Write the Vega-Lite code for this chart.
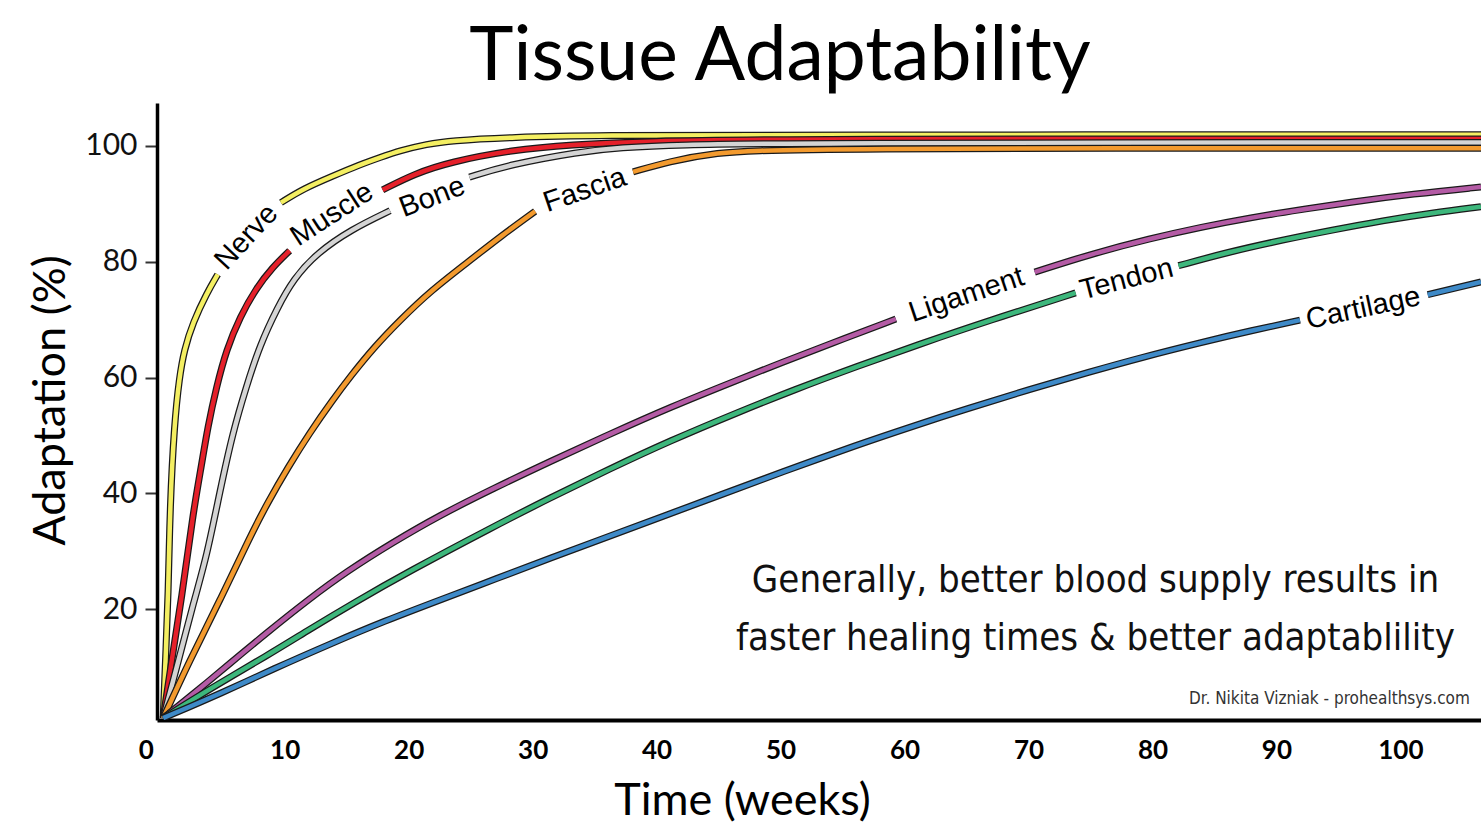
{
  "$schema": "https://vega.github.io/schema/vega-lite/v6.json",
  "autosize": {"type": "none"},
  "padding": {"left": 157, "top": 103, "right": 0, "bottom": 120},
  "width": 1324,
  "height": 617,
  "background": "white",
  "config": {"view": {"stroke": null}},
  "title": {"text": "Tissue Adaptability", "font": "Lato", "fontSize": 75, "fontWeight": "normal", "color": "black", "anchor": "middle", "dx": -39, "dy": 78, "baseline": "alphabetic", "offset": 26},
  "datasets": {
    "curves": [
      {"s": "Nerve", "g": "Nerve-a", "x": 0.2, "y": 1.2},
      {"s": "Nerve", "g": "Nerve-a", "x": 0.4, "y": 12},
      {"s": "Nerve", "g": "Nerve-a", "x": 0.6, "y": 22},
      {"s": "Nerve", "g": "Nerve-a", "x": 0.75, "y": 38},
      {"s": "Nerve", "g": "Nerve-a", "x": 1.1, "y": 52},
      {"s": "Nerve", "g": "Nerve-a", "x": 1.5, "y": 60},
      {"s": "Nerve", "g": "Nerve-a", "x": 1.9, "y": 64.8},
      {"s": "Nerve", "g": "Nerve-a", "x": 2.6, "y": 69.5},
      {"s": "Nerve", "g": "Nerve-a", "x": 3.7, "y": 74.5},
      {"s": "Nerve", "g": "Nerve-a", "x": 4.6, "y": 77.8},
      {"s": "Nerve", "g": "Nerve-b", "x": 9.7, "y": 90.2},
      {"s": "Nerve", "g": "Nerve-b", "x": 11.5, "y": 92.6},
      {"s": "Nerve", "g": "Nerve-b", "x": 13.9, "y": 94.8},
      {"s": "Nerve", "g": "Nerve-b", "x": 16, "y": 96.7},
      {"s": "Nerve", "g": "Nerve-b", "x": 17.7, "y": 98.0},
      {"s": "Nerve", "g": "Nerve-b", "x": 19.3, "y": 99.2},
      {"s": "Nerve", "g": "Nerve-b", "x": 21.5, "y": 100.3},
      {"s": "Nerve", "g": "Nerve-b", "x": 23.3, "y": 100.9},
      {"s": "Nerve", "g": "Nerve-b", "x": 28.4, "y": 101.5},
      {"s": "Nerve", "g": "Nerve-b", "x": 35, "y": 101.8},
      {"s": "Nerve", "g": "Nerve-b", "x": 50, "y": 101.9},
      {"s": "Nerve", "g": "Nerve-b", "x": 106.5, "y": 101.9},
      {"s": "Muscle", "g": "Muscle-a", "x": 0.2, "y": 1.2},
      {"s": "Muscle", "g": "Muscle-a", "x": 0.8, "y": 10},
      {"s": "Muscle", "g": "Muscle-a", "x": 1.7, "y": 22},
      {"s": "Muscle", "g": "Muscle-a", "x": 2.6, "y": 36.5},
      {"s": "Muscle", "g": "Muscle-a", "x": 3.3, "y": 45},
      {"s": "Muscle", "g": "Muscle-a", "x": 3.8, "y": 51.5},
      {"s": "Muscle", "g": "Muscle-a", "x": 4.5, "y": 58.4},
      {"s": "Muscle", "g": "Muscle-a", "x": 5.3, "y": 64.8},
      {"s": "Muscle", "g": "Muscle-a", "x": 6.4, "y": 70.5},
      {"s": "Muscle", "g": "Muscle-a", "x": 7.7, "y": 75.4},
      {"s": "Muscle", "g": "Muscle-a", "x": 9.0, "y": 79.0},
      {"s": "Muscle", "g": "Muscle-a", "x": 10.4, "y": 81.9},
      {"s": "Muscle", "g": "Muscle-b", "x": 17.9, "y": 92.4},
      {"s": "Muscle", "g": "Muscle-b", "x": 20.5, "y": 95.2},
      {"s": "Muscle", "g": "Muscle-b", "x": 23.3, "y": 97.2},
      {"s": "Muscle", "g": "Muscle-b", "x": 28.4, "y": 99.3},
      {"s": "Muscle", "g": "Muscle-b", "x": 33, "y": 100.2},
      {"s": "Muscle", "g": "Muscle-b", "x": 39.2, "y": 100.8},
      {"s": "Muscle", "g": "Muscle-b", "x": 50, "y": 101.2},
      {"s": "Muscle", "g": "Muscle-b", "x": 106.5, "y": 101.2},
      {"s": "Bone", "g": "Bone-a", "x": 0.2, "y": 1.2},
      {"s": "Bone", "g": "Bone-a", "x": 1.3, "y": 10},
      {"s": "Bone", "g": "Bone-a", "x": 2.7, "y": 21.6},
      {"s": "Bone", "g": "Bone-a", "x": 3.7, "y": 29},
      {"s": "Bone", "g": "Bone-a", "x": 4.8, "y": 40.6},
      {"s": "Bone", "g": "Bone-a", "x": 5.8, "y": 50.4},
      {"s": "Bone", "g": "Bone-a", "x": 6.9, "y": 58.4},
      {"s": "Bone", "g": "Bone-a", "x": 8.0, "y": 65.6},
      {"s": "Bone", "g": "Bone-a", "x": 9.4, "y": 72.0},
      {"s": "Bone", "g": "Bone-a", "x": 10.7, "y": 77.0},
      {"s": "Bone", "g": "Bone-a", "x": 12.6, "y": 81.5},
      {"s": "Bone", "g": "Bone-a", "x": 15.4, "y": 85.6},
      {"s": "Bone", "g": "Bone-a", "x": 18.5, "y": 88.8},
      {"s": "Bone", "g": "Bone-b", "x": 24.9, "y": 94.6},
      {"s": "Bone", "g": "Bone-b", "x": 28, "y": 96.7},
      {"s": "Bone", "g": "Bone-b", "x": 33.8, "y": 99.0},
      {"s": "Bone", "g": "Bone-b", "x": 37, "y": 99.7},
      {"s": "Bone", "g": "Bone-b", "x": 41.9, "y": 100.2},
      {"s": "Bone", "g": "Bone-b", "x": 50, "y": 100.5},
      {"s": "Bone", "g": "Bone-b", "x": 106.5, "y": 100.6},
      {"s": "Fascia", "g": "Fascia-a", "x": 0.2, "y": 1.2},
      {"s": "Fascia", "g": "Fascia-a", "x": 2.3, "y": 11},
      {"s": "Fascia", "g": "Fascia-a", "x": 4.8, "y": 21.6},
      {"s": "Fascia", "g": "Fascia-a", "x": 7.2, "y": 32.5},
      {"s": "Fascia", "g": "Fascia-a", "x": 8.6, "y": 38.3},
      {"s": "Fascia", "g": "Fascia-a", "x": 10.3, "y": 44.6},
      {"s": "Fascia", "g": "Fascia-a", "x": 12.0, "y": 50.4},
      {"s": "Fascia", "g": "Fascia-a", "x": 13.8, "y": 55.9},
      {"s": "Fascia", "g": "Fascia-a", "x": 15.3, "y": 60.2},
      {"s": "Fascia", "g": "Fascia-a", "x": 17.2, "y": 65.2},
      {"s": "Fascia", "g": "Fascia-a", "x": 19.3, "y": 69.9},
      {"s": "Fascia", "g": "Fascia-a", "x": 21.8, "y": 75},
      {"s": "Fascia", "g": "Fascia-a", "x": 24.7, "y": 79.8},
      {"s": "Fascia", "g": "Fascia-a", "x": 27.5, "y": 84.5},
      {"s": "Fascia", "g": "Fascia-a", "x": 30.2, "y": 88.7},
      {"s": "Fascia", "g": "Fascia-b", "x": 38.1, "y": 95.5},
      {"s": "Fascia", "g": "Fascia-b", "x": 41, "y": 97.3},
      {"s": "Fascia", "g": "Fascia-b", "x": 44.6, "y": 98.8},
      {"s": "Fascia", "g": "Fascia-b", "x": 50, "y": 99.6},
      {"s": "Fascia", "g": "Fascia-b", "x": 106.5, "y": 99.6},
      {"s": "Ligament", "g": "Ligament-a", "x": 0.2, "y": 1.2},
      {"s": "Ligament", "g": "Ligament-a", "x": 3, "y": 6},
      {"s": "Ligament", "g": "Ligament-a", "x": 5.5, "y": 10.5},
      {"s": "Ligament", "g": "Ligament-a", "x": 8.6, "y": 16},
      {"s": "Ligament", "g": "Ligament-a", "x": 12, "y": 21.8},
      {"s": "Ligament", "g": "Ligament-a", "x": 15, "y": 26.5},
      {"s": "Ligament", "g": "Ligament-a", "x": 18.7, "y": 31.5},
      {"s": "Ligament", "g": "Ligament-a", "x": 22.5, "y": 36.2},
      {"s": "Ligament", "g": "Ligament-a", "x": 26.8, "y": 40.8},
      {"s": "Ligament", "g": "Ligament-a", "x": 31.4, "y": 45.5},
      {"s": "Ligament", "g": "Ligament-a", "x": 36.2, "y": 50.2},
      {"s": "Ligament", "g": "Ligament-a", "x": 41, "y": 54.8},
      {"s": "Ligament", "g": "Ligament-a", "x": 46.8, "y": 59.8},
      {"s": "Ligament", "g": "Ligament-a", "x": 50, "y": 62.5},
      {"s": "Ligament", "g": "Ligament-a", "x": 54, "y": 65.8},
      {"s": "Ligament", "g": "Ligament-a", "x": 59.3, "y": 70.1},
      {"s": "Ligament", "g": "Ligament-b", "x": 70.5, "y": 78.2},
      {"s": "Ligament", "g": "Ligament-b", "x": 75, "y": 81.3},
      {"s": "Ligament", "g": "Ligament-b", "x": 79.8, "y": 84.0},
      {"s": "Ligament", "g": "Ligament-b", "x": 84, "y": 86},
      {"s": "Ligament", "g": "Ligament-b", "x": 87.9, "y": 87.6},
      {"s": "Ligament", "g": "Ligament-b", "x": 92, "y": 89},
      {"s": "Ligament", "g": "Ligament-b", "x": 96, "y": 90.3},
      {"s": "Ligament", "g": "Ligament-b", "x": 101, "y": 91.7},
      {"s": "Ligament", "g": "Ligament-b", "x": 106.5, "y": 92.9},
      {"s": "Tendon", "g": "Tendon-a", "x": 0.2, "y": 1.2},
      {"s": "Tendon", "g": "Tendon-a", "x": 4, "y": 6.3},
      {"s": "Tendon", "g": "Tendon-a", "x": 8.6, "y": 12},
      {"s": "Tendon", "g": "Tendon-a", "x": 12, "y": 16.5},
      {"s": "Tendon", "g": "Tendon-a", "x": 15.5, "y": 21},
      {"s": "Tendon", "g": "Tendon-a", "x": 20, "y": 26.5},
      {"s": "Tendon", "g": "Tendon-a", "x": 26.8, "y": 34.2},
      {"s": "Tendon", "g": "Tendon-a", "x": 31.4, "y": 39.2},
      {"s": "Tendon", "g": "Tendon-a", "x": 36.2, "y": 44.2},
      {"s": "Tendon", "g": "Tendon-a", "x": 41, "y": 49},
      {"s": "Tendon", "g": "Tendon-a", "x": 46.8, "y": 54.2},
      {"s": "Tendon", "g": "Tendon-a", "x": 51, "y": 57.8},
      {"s": "Tendon", "g": "Tendon-a", "x": 56, "y": 61.8},
      {"s": "Tendon", "g": "Tendon-a", "x": 61, "y": 65.6},
      {"s": "Tendon", "g": "Tendon-a", "x": 66.9, "y": 69.9},
      {"s": "Tendon", "g": "Tendon-a", "x": 73.8, "y": 74.6},
      {"s": "Tendon", "g": "Tendon-b", "x": 82.1, "y": 79.3},
      {"s": "Tendon", "g": "Tendon-b", "x": 86, "y": 81.6},
      {"s": "Tendon", "g": "Tendon-b", "x": 90.6, "y": 83.8},
      {"s": "Tendon", "g": "Tendon-b", "x": 94.6, "y": 85.5},
      {"s": "Tendon", "g": "Tendon-b", "x": 98.6, "y": 87.1},
      {"s": "Tendon", "g": "Tendon-b", "x": 102.5, "y": 88.4},
      {"s": "Tendon", "g": "Tendon-b", "x": 106.5, "y": 89.5},
      {"s": "Cartilage", "g": "Cartilage-a", "x": 0.2, "y": 1.2},
      {"s": "Cartilage", "g": "Cartilage-a", "x": 5, "y": 5.6},
      {"s": "Cartilage", "g": "Cartilage-a", "x": 9, "y": 9.6},
      {"s": "Cartilage", "g": "Cartilage-a", "x": 13.9, "y": 14.2},
      {"s": "Cartilage", "g": "Cartilage-a", "x": 18, "y": 17.9},
      {"s": "Cartilage", "g": "Cartilage-a", "x": 22.8, "y": 21.8},
      {"s": "Cartilage", "g": "Cartilage-a", "x": 27, "y": 25.2},
      {"s": "Cartilage", "g": "Cartilage-a", "x": 31.4, "y": 28.8},
      {"s": "Cartilage", "g": "Cartilage-a", "x": 36.2, "y": 32.6},
      {"s": "Cartilage", "g": "Cartilage-a", "x": 41, "y": 36.4},
      {"s": "Cartilage", "g": "Cartilage-a", "x": 45, "y": 39.6},
      {"s": "Cartilage", "g": "Cartilage-a", "x": 50, "y": 43.6},
      {"s": "Cartilage", "g": "Cartilage-a", "x": 56.1, "y": 48.3},
      {"s": "Cartilage", "g": "Cartilage-a", "x": 61, "y": 51.8},
      {"s": "Cartilage", "g": "Cartilage-a", "x": 65, "y": 54.6},
      {"s": "Cartilage", "g": "Cartilage-a", "x": 70, "y": 57.9},
      {"s": "Cartilage", "g": "Cartilage-a", "x": 75, "y": 61},
      {"s": "Cartilage", "g": "Cartilage-a", "x": 79, "y": 63.4},
      {"s": "Cartilage", "g": "Cartilage-a", "x": 84, "y": 66.1},
      {"s": "Cartilage", "g": "Cartilage-a", "x": 88, "y": 68.1},
      {"s": "Cartilage", "g": "Cartilage-a", "x": 91.9, "y": 69.9},
      {"s": "Cartilage", "g": "Cartilage-b", "x": 102.2, "y": 74.3},
      {"s": "Cartilage", "g": "Cartilage-b", "x": 106.5, "y": 76.5}
    ],
    "labels": [
      {"t": "Nerve", "x": 6.9, "y": 84.3, "a": -47},
      {"t": "Muscle", "x": 13.8, "y": 88.2, "a": -33},
      {"t": "Bone", "x": 21.9, "y": 91.2, "a": -21},
      {"t": "Fascia", "x": 34.2, "y": 92.4, "a": -19},
      {"t": "Ligament", "x": 65.0, "y": 74.3, "a": -18.5},
      {"t": "Tendon", "x": 77.9, "y": 77.0, "a": -14.5},
      {"t": "Cartilage", "x": 97.0, "y": 72.0, "a": -12}
    ],
    "notes": [
      {"t": "Generally, better blood supply results in|faster healing times & better adaptablility", "x": 75.4, "y": 22.97}
    ],
    "credit": [
      {"t": "Dr. Nikita Vizniak - prohealthsys.com", "x": 105.6, "y": 3.6}
    ]
  },
  "layer": [
    {
      "data": {"name": "curves"},
      "encoding": {
        "x": {"field": "x", "type": "quantitative", "scale": {"domain": [-0.3, 106.5], "nice": false, "zero": false},
          "axis": {"values": [0, 10, 20, 30, 40, 50, 60, 70, 80, 90, 100], "title": "Time (weeks)", "titleFont": "Lato", "titleFontSize": 45, "titleFontWeight": "normal", "titleColor": "black", "titleX": 585, "titleY": 80, "titleAlign": "center", "titleBaseline": "middle", "labelFont": "Lato", "labelFontWeight": "bold", "labelFontSize": 26, "labelColor": "black", "labelBaseline": "middle", "labelPadding": 30, "ticks": false, "tickSize": 0, "labelOffset": {"condition": {"test": "datum.value === 0", "value": -15}, "value": 0}, "labelFlush": false, "labelOverlap": false, "domainColor": "black", "domainWidth": 4, "grid": false}},
        "y": {"field": "y", "type": "quantitative", "scale": {"domain": [0.86, 107.4], "nice": false, "zero": false},
          "axis": {"values": [20, 40, 60, 80, 100], "title": "Adaptation (%)", "titleFont": "Lato", "titleFontSize": 45, "titleFontWeight": "normal", "titleColor": "black", "titleAngle": -90, "titleX": -107, "titleY": 297, "titleAlign": "center", "titleBaseline": "middle", "labelFont": "Lato", "labelFontSize": 30, "labelColor": "#111", "labelPadding": 8, "tickSize": 12, "tickWidth": 2, "tickColor": "#333", "labelFlush": false, "labelOverlap": false, "domainColor": "black", "domainWidth": 3.5, "grid": false}},
        "detail": {"field": "g", "type": "nominal"}
      },
      "layer": [
        {"transform": [{"filter": "datum.s === 'Nerve'"}], "mark": {"type": "line", "interpolate": "basis", "stroke": "#1a1a1a", "strokeWidth": 7, "strokeCap": "butt", "clip": true}},
        {"transform": [{"filter": "datum.s === 'Nerve'"}], "mark": {"type": "line", "interpolate": "basis", "stroke": "#f4ef62", "strokeWidth": 4.5, "strokeCap": "butt", "clip": true}},
        {"transform": [{"filter": "datum.s === 'Muscle'"}], "mark": {"type": "line", "interpolate": "basis", "stroke": "#1a1a1a", "strokeWidth": 7, "strokeCap": "butt", "clip": true}},
        {"transform": [{"filter": "datum.s === 'Muscle'"}], "mark": {"type": "line", "interpolate": "basis", "stroke": "#e5202a", "strokeWidth": 4.5, "strokeCap": "butt", "clip": true}},
        {"transform": [{"filter": "datum.s === 'Bone'"}], "mark": {"type": "line", "interpolate": "basis", "stroke": "#1a1a1a", "strokeWidth": 7, "strokeCap": "butt", "clip": true}},
        {"transform": [{"filter": "datum.s === 'Bone'"}], "mark": {"type": "line", "interpolate": "basis", "stroke": "#d4d4d4", "strokeWidth": 4.5, "strokeCap": "butt", "clip": true}},
        {"transform": [{"filter": "datum.s === 'Fascia'"}], "mark": {"type": "line", "interpolate": "basis", "stroke": "#1a1a1a", "strokeWidth": 7, "strokeCap": "butt", "clip": true}},
        {"transform": [{"filter": "datum.s === 'Fascia'"}], "mark": {"type": "line", "interpolate": "basis", "stroke": "#f39a2e", "strokeWidth": 4.5, "strokeCap": "butt", "clip": true}},
        {"transform": [{"filter": "datum.s === 'Ligament'"}], "mark": {"type": "line", "interpolate": "basis", "stroke": "#1a1a1a", "strokeWidth": 7, "strokeCap": "butt", "clip": true}},
        {"transform": [{"filter": "datum.s === 'Ligament'"}], "mark": {"type": "line", "interpolate": "basis", "stroke": "#b45ba5", "strokeWidth": 4.5, "strokeCap": "butt", "clip": true}},
        {"transform": [{"filter": "datum.s === 'Tendon'"}], "mark": {"type": "line", "interpolate": "basis", "stroke": "#1a1a1a", "strokeWidth": 7, "strokeCap": "butt", "clip": true}},
        {"transform": [{"filter": "datum.s === 'Tendon'"}], "mark": {"type": "line", "interpolate": "basis", "stroke": "#3db77c", "strokeWidth": 4.5, "strokeCap": "butt", "clip": true}},
        {"transform": [{"filter": "datum.s === 'Cartilage'"}], "mark": {"type": "line", "interpolate": "basis", "stroke": "#1a1a1a", "strokeWidth": 7, "strokeCap": "butt", "clip": true}},
        {"transform": [{"filter": "datum.s === 'Cartilage'"}], "mark": {"type": "line", "interpolate": "basis", "stroke": "#3e8ac8", "strokeWidth": 4.5, "strokeCap": "butt", "clip": true}}
      ]
    },
    {
      "data": {"name": "labels"},
      "mark": {"type": "text", "font": "Liberation Sans", "fontSize": 29, "color": "black", "align": "center", "baseline": "middle"},
      "encoding": {
        "x": {"field": "x", "type": "quantitative"},
        "y": {"field": "y", "type": "quantitative"},
        "text": {"field": "t", "type": "nominal"},
        "angle": {"field": "a", "type": "quantitative", "scale": null}
      }
    },
    {
      "data": {"name": "notes"},
      "mark": {"type": "text", "font": "'DejaVu Sans Condensed', Roboto, sans-serif", "fontSize": 38, "color": "#111", "align": "center", "baseline": "alphabetic", "lineBreak": "|", "lineHeight": 58},
      "encoding": {
        "x": {"field": "x", "type": "quantitative"},
        "y": {"field": "y", "type": "quantitative"},
        "text": {"field": "t", "type": "nominal"}
      }
    },
    {
      "data": {"name": "credit"},
      "mark": {"type": "text", "font": "'DejaVu Sans Condensed', Roboto, sans-serif", "fontSize": 17, "color": "#333", "align": "right", "baseline": "alphabetic"},
      "encoding": {
        "x": {"field": "x", "type": "quantitative"},
        "y": {"field": "y", "type": "quantitative"},
        "text": {"field": "t", "type": "nominal"}
      }
    }
  ]
}
